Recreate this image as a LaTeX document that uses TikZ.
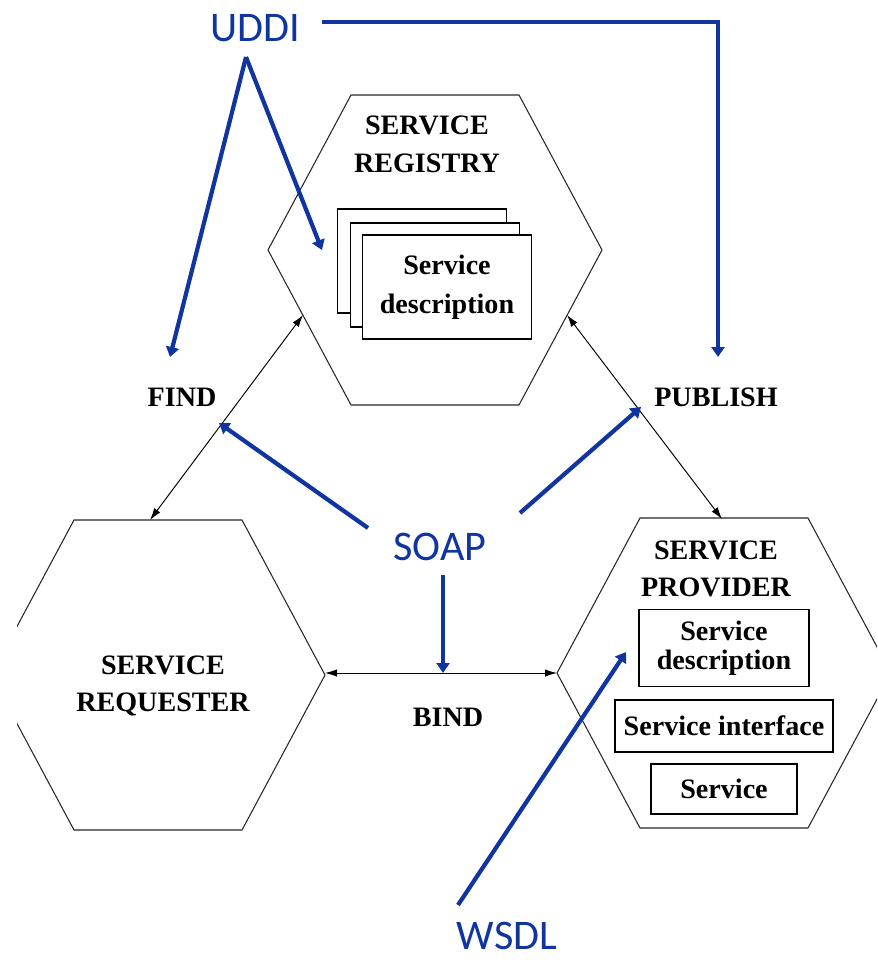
\documentclass[tikz,border=0pt]{standalone}
\usepackage{fontspec}
\setmainfont{Liberation Serif}
\newfontfamily\labelfont{Carlito}
\usetikzlibrary{arrows.meta}
\definecolor{wsblue}{RGB}{16,52,160}

\tikzset{
    hexline/.style={draw=black!85, line width=0.6pt},
    hexa/.pic={\draw[hexline] (-84,-155) -- (84,-155) -- (167,0) -- (84,155) -- (-84,155) -- (-167,0) -- cycle;},
    roletext/.style={font=\bfseries\fontsize{16}{21.5}\selectfont, align=center, inner sep=0pt},
    descbox/.style={draw, fill=white, line width=0.9pt, minimum width=3.38cm, minimum height=2.08cm},
    smallbox/.style={draw, line width=0.9pt},
    biarrow/.style={line width=0.55pt, {Latex[length=2.4mm,width=1.5mm]}-{Latex[length=2.4mm,width=1.5mm]}},
    bluearrow/.style={draw=wsblue, line width=2.4pt, -{Triangle[length=2mm,width=2.6mm]}},
    bluelabel/.style={text=wsblue, font=\labelfont\fontsize{24}{24}\selectfont, inner sep=0pt}
}

\begin{document}
\begin{tikzpicture}[x=0.02cm, y=-0.02cm]
    \useasboundingbox (0,0) rectangle (877,960);
    \clip (17,0) rectangle (877,960);

    % the three roles
    \pic at (435,250) {hexa};
    \pic at (158,675) {hexa};
    \pic at (724,673) {hexa};

    \node[roletext] (registry) at (427,144) {SERVICE\\REGISTRY};
    \node[roletext] (requester) at (163,686) {SERVICE\\REQUESTER};
    \node[roletext] (provider) at (716,569) {SERVICE\\PROVIDER};

    % stacked descriptions in the registry
    \node[descbox] (desc3) at (422,261) {};
    \node[descbox] (desc2) at (435,275) {};
    \node[descbox, font=\bfseries\fontsize{16}{22}\selectfont, align=center] (desc1) at (447,287) {Service\\description};

    % provider contents
    \node[smallbox, minimum width=3.4cm, minimum height=1.54cm, font=\bfseries\fontsize{16}{16.5}\selectfont, align=center] (pdesc) at (724,648) {Service\\description};
    \node[smallbox, minimum width=4.36cm, minimum height=1.04cm, font=\bfseries\fontsize{16}{18}\selectfont, inner sep=0pt] (pintf) at (724,726) {Service interface};
    \node[smallbox, minimum width=2.92cm, minimum height=1.0cm, font=\bfseries\fontsize{16}{18}\selectfont] (psvc) at (724,789) {Service};

    % operations
    \node[roletext] (find) at (182,397) {FIND};
    \node[roletext] (publish) at (716,397) {PUBLISH};
    \node[roletext] (bind) at (448,717) {BIND};

    \coordinate (regL) at (303,315);
    \coordinate (regR) at (567,315);
    \coordinate (reqT) at (150,520);
    \coordinate (provT) at (722,519);
    \coordinate (reqR) at (325,673);
    \coordinate (provL) at (557,673);

    \draw[biarrow] (reqT) -- (regL);
    \draw[biarrow] (regR) -- (provT);
    \draw[biarrow] (reqR) -- (provL);

    % standards
    \node[bluelabel] (uddi) at (255,28) {UDDI};
    \node[bluelabel] (soap) at (440,547) {SOAP};
    \node[bluelabel] (wsdl) at (507,936) {WSDL};

    \coordinate (uddiTop) at (246,57);
    \coordinate (uddiEnd) at (322,22);
    \coordinate (uddiCorner) at (718,22);
    \coordinate (findTip) at (170,357);
    \coordinate (regTip) at (322,250);
    \coordinate (pubTip) at (718,357);
    \coordinate (soapL) at (368,528);
    \coordinate (findMid) at (219,423);
    \coordinate (soapR) at (520,513);
    \coordinate (pubMid) at (641,407);
    \coordinate (soapD) at (443,575);
    \coordinate (bindMid) at (443,673);
    \coordinate (wsdlTop) at (458,905);
    \coordinate (provTip) at (626,652);

    \draw[bluearrow] (uddiEnd) -- (uddiCorner) -- (pubTip);
    \draw[bluearrow] (uddiTop) -- (findTip);
    \draw[bluearrow] (uddiTop) -- (regTip);
    \draw[bluearrow] (soapL) -- (findMid);
    \draw[bluearrow] (soapR) -- (pubMid);
    \draw[bluearrow] (soapD) -- (bindMid);
    \draw[bluearrow] (wsdlTop) -- (provTip);
\end{tikzpicture}
\end{document}
